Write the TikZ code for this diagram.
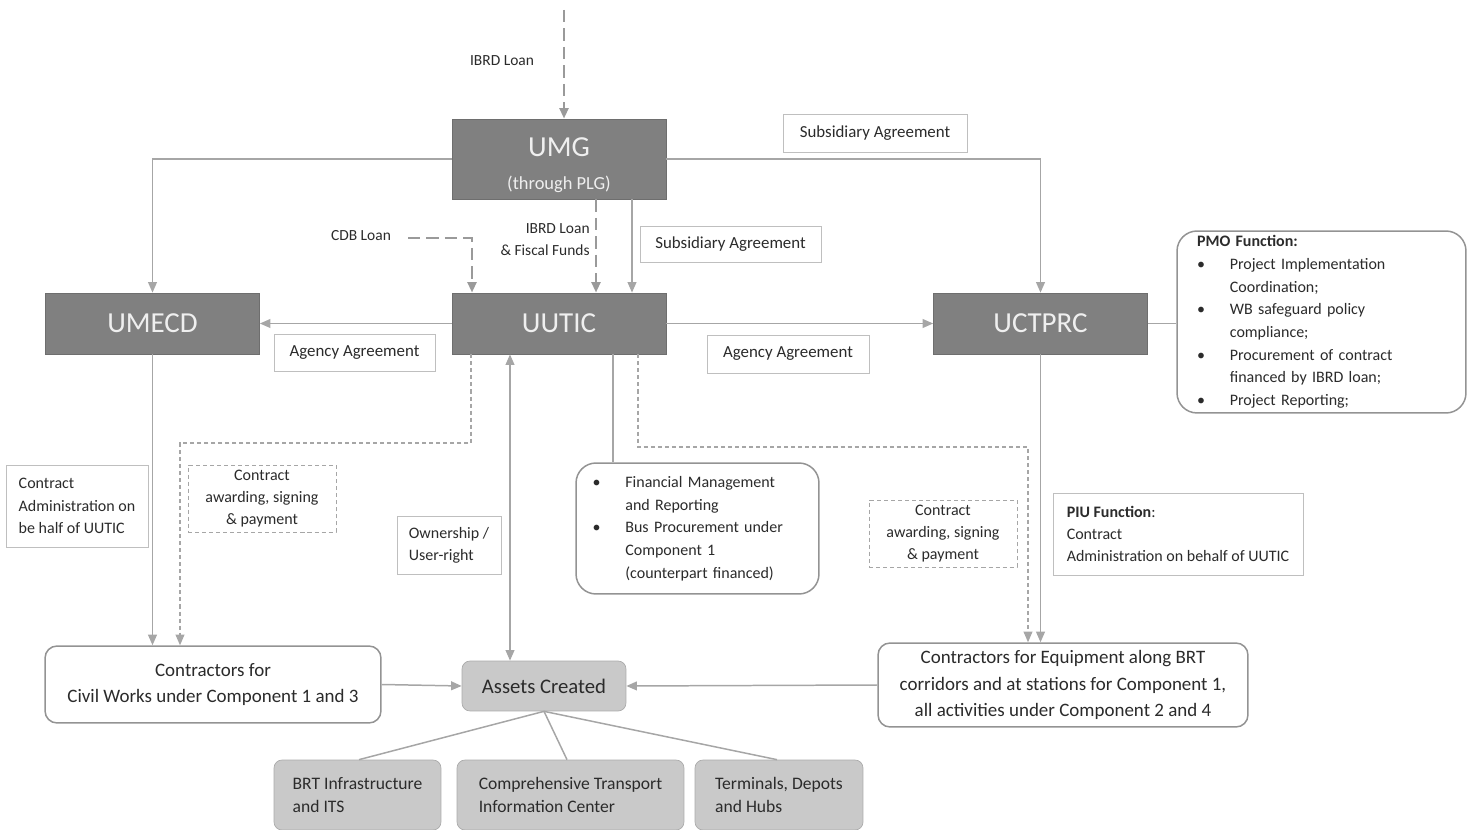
\documentclass[tikz,border=0pt]{standalone}
\usepackage{fontspec}
\setmainfont{Carlito}
\usetikzlibrary{arrows.meta}

\definecolor{boxGray}{HTML}{808080}
\definecolor{boxEdge}{HTML}{6E6E6E}
\definecolor{assetGray}{HTML}{C9C9C9}
\definecolor{assetEdge}{HTML}{ABABAB}
\definecolor{lineGray}{HTML}{A6A6A6}
\definecolor{loanGray}{HTML}{9A9A9A}
\definecolor{labelEdge}{HTML}{BFBFBF}
\definecolor{roundEdge}{HTML}{939393}
\definecolor{inkGray}{HTML}{2B2B2B}
\definecolor{paleText}{HTML}{EFEFEF}

\newcommand{\bulletItem}{\makebox[18.7pt][l]{\textbullet}}
\newcommand{\bulletCont}{\hspace*{18.7pt}}

\begin{document}
\begin{tikzpicture}[x=0.02cm, y=-0.02cm, >={Triangle[length=6pt, width=5pt]}]

    %
    % Styles for boxes, labels and flows
    %
    \tikzstyle{agency} = [draw=boxEdge, fill=boxGray, text=paleText, rectangle,
                          minimum width=4.28cm, minimum height=1.22cm, inner sep=0pt,
                          font={\fontsize{16.5}{19}\selectfont}]
    \tikzstyle{labelBox} = [draw=labelEdge, fill=white, text=inkGray, rectangle, inner sep=0pt,
                          align=center, font={\fontsize{9.6}{12.5}\selectfont}]
    \tikzstyle{noteBox} = [labelBox, align=left, font={\fontsize{9.1}{12.6}\selectfont}]
    \tikzstyle{awardBox} = [labelBox, draw=lineGray, dash pattern=on 2.3pt off 1.7pt,
                          font={\fontsize{9.1}{12.6}\selectfont}]
    \tikzstyle{roundBox} = [draw=roundEdge, line width=0.85pt, fill=white, text=inkGray, rectangle,
                          inner sep=0pt, align=left, font={\fontsize{9.1}{12.9}\selectfont}]
    \tikzstyle{contractor} = [roundBox, align=center, rounded corners=0.24cm,
                          font={\fontsize{10.8}{15.2}\selectfont}]
    \tikzstyle{assetBox} = [draw=assetEdge, fill=assetGray, text=inkGray, rectangle,
                          rounded corners=0.16cm, inner sep=0pt]
    \tikzstyle{assetPart} = [assetBox, align=left, minimum height=1.4cm,
                          font={\fontsize{10}{13.6}\selectfont}]
    \tikzstyle{loanLabel} = [text=inkGray, inner sep=0pt, font={\fontsize{8.8}{12.5}\selectfont}]
    \tikzstyle{flow} = [draw=lineGray, line width=0.85pt];
    \tikzstyle{dataFlow} = [flow, ->];
    \tikzstyle{loanFlow} = [draw=loanGray, line width=1.5pt, dash pattern=on 7pt off 3.5pt, ->];
    \tikzstyle{awardFlow} = [draw=lineGray, line width=0.6pt, dash pattern=on 2.3pt off 1.7pt, ->];

    \useasboundingbox (0,0) rectangle (1470,830);

    %
    % Agencies
    %
    \node[agency, name=umg, minimum height=1.6cm, align=center] at (559,159)
      {\rule{0pt}{18pt}UMG\\\fontsize{10.5}{17}\selectfont(through PLG)};
    \node[agency, name=uutic] at (559,323.5) {UUTIC};
    \node[agency, name=umecd] at (152.5,323.5) {UMECD};
    \node[agency, name=uctprc] at (1040.5,323.5) {UCTPRC};

    %
    % Agreements and notes
    %
    \node[labelBox, name=subTop, minimum width=3.68cm, minimum height=0.76cm] at (875,133) {Subsidiary Agreement};
    \node[labelBox, name=subMid, minimum width=3.62cm, minimum height=0.72cm] at (730.5,244) {Subsidiary Agreement};
    \node[labelBox, name=agencyLeft, minimum width=3.22cm, minimum height=0.74cm] at (354.5,352.5) {Agency Agreement};
    \node[labelBox, name=agencyRight, minimum width=3.24cm, minimum height=0.76cm] at (788,354) {Agency Agreement};

    \node[noteBox, name=adminNote, minimum width=2.84cm, minimum height=1.64cm] at (77,506)
      {Contract\\Administration on\\be half of UUTIC};
    \node[awardBox, name=awardLeft, minimum width=2.96cm, minimum height=1.34cm] at (262,498.5)
      {Contract\\awarding, signing\\\& payment};
    \node[noteBox, name=ownNote, minimum width=2.08cm, minimum height=1.16cm] at (449,545)
      {Ownership /\\User-right};
    \node[awardBox, name=awardRight, minimum width=2.96cm, minimum height=1.34cm] at (943,533.5)
      {Contract\\awarding, signing\\\& payment};
    \node[noteBox, name=piuNote, minimum width=5cm, minimum height=1.64cm] at (1178,534)
      {\textbf{PIU Function}:\\Contract\\Administration on behalf of UUTIC};

    \node[roundBox, name=pmo, text width=4.98cm, inner xsep=0.4cm, minimum height=3.64cm,
          rounded corners=0.4cm] at (1321.5,322)
      {\textbf{PMO Function:}\\
       \bulletItem Project Implementation\\
       \bulletCont Coordination;\\
       \bulletItem WB safeguard policy\\
       \bulletCont compliance;\\
       \bulletItem Procurement of contract\\
       \bulletCont financed by IBRD loan;\\
       \bulletItem Project Reporting;};
    \node[roundBox, name=fin, text width=4.2cm, inner xsep=0.33cm, minimum height=2.62cm,
          rounded corners=0.4cm] at (697.5,528.5)
      {\bulletItem Financial Management\\
       \bulletCont and Reporting\\
       \bulletItem Bus Procurement under\\
       \bulletCont Component 1\\
       \bulletCont (counterpart financed)};

    %
    % Contractors and assets
    %
    \node[contractor, name=civil, minimum width=6.72cm, minimum height=1.54cm] at (213,684.5)
      {Contractors for\\Civil Works under Component 1 and 3};
    \node[contractor, name=equip, minimum width=7.4cm, minimum height=1.68cm] at (1063,685)
      {Contractors for Equipment along BRT\\corridors and at stations for Component 1,\\all activities under Component 2 and 4};
    \node[assetBox, name=assets, minimum width=3.28cm, minimum height=1cm,
          font={\fontsize{11.8}{14}\selectfont}] at (544,686) {Assets Created};
    \node[assetPart, name=brt, minimum width=3.34cm] at (357.5,795) {BRT Infrastructure\\and ITS};
    \node[assetPart, name=ctic, minimum width=4.54cm] at (570.5,795) {Comprehensive Transport\\Information Center};
    \node[assetPart, name=term, minimum width=3.36cm] at (779,795) {Terminals, Depots\\and Hubs};

    %
    % Loans
    %
    \coordinate (ibrdSrc) at (564,10);
    \coordinate (cdbSrc) at (408,238);
    \node[loanLabel, name=ibrdTop] at (502,61) {IBRD Loan};
    \node[loanLabel, name=ibrdMid, align=right, anchor=east] at (590,240) {IBRD Loan\\\& Fiscal Funds};
    \node[loanLabel, name=cdbLoan] at (361,236) {CDB Loan};
    \draw[loanFlow] (ibrdSrc) -- (umg.north -| ibrdSrc);
    \draw[loanFlow] (umg.south -| 596,0) -- (uutic.north -| 596,0);
    \draw[loanFlow] (cdbSrc) -| (uutic.north -| 472,0);

    %
    % Agreements and contract flows
    %
    \draw[dataFlow] (umg.west) -| (umecd.north);
    \draw[dataFlow] (umg.east) -| (uctprc.north);
    \draw[dataFlow] (umg.south -| 632,0) -- (uutic.north -| 632,0);
    \draw[dataFlow] (uutic.west) -- (umecd.east);
    \draw[dataFlow] (uutic.east) -- (uctprc.west);
    \draw[flow] (uctprc.east) -- (pmo.west |- uctprc.east);
    \draw[dataFlow] (umecd.south) -- (civil.north -| umecd.south);
    \draw[awardFlow] (uutic.south -| 471,0) |- (180,443) -- (civil.north -| 180,0);
    \draw[flow, <->] (uutic.south -| 510,0) -- (assets.north -| 510,0);
    \draw[flow] (uutic.south -| 613,0) -- (fin.north -| 613,0);
    \draw[awardFlow] (uutic.south -| 638,0) |- (1028,447) -- (equip.north -| 1028,0);
    \draw[dataFlow] (uctprc.south) -- (equip.north -| uctprc.south);
    \draw[dataFlow] (civil.east) -- (assets.west);
    \draw[dataFlow] (equip.west) -- (assets.east);
    \draw[flow] (assets.south) -- (brt.north -| 359,0);
    \draw[flow] (assets.south) -- (ctic.north -| 567,0);
    \draw[flow] (assets.south) -- (term.north -| 777,0);
\end{tikzpicture}
\end{document}
